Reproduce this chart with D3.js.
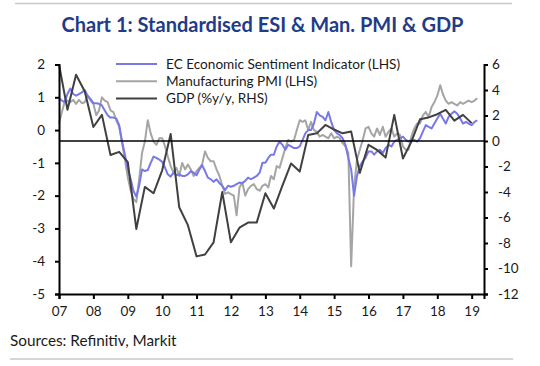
<!DOCTYPE html>
<html><head><meta charset="utf-8">
<script src="https://cdn.jsdelivr.net/npm/d3@7"></script>
<style>
body{margin:0;background:#fff;}
svg text{font-family:Lato,"Open Sans",sans-serif;}
</style></head>
<body><svg id="c" width="540" height="366"></svg>
<script>
// ---- data ----
const monthlyStart = [2007, 0]; // Jan 2007, monthly observations
const esi = [0.97,0.9,0.85,1.1,1.27,1.1,1.05,1.1,1.15,1.22,1.05,0.95,
0.82,0.82,0.8,0.75,0.6,0.45,0.38,0.38,0.35,0.15,-0.35,-0.75,
-1.2,-1.5,-1.85,-2.03,-1.7,-1.2,-1.25,-1.22,-1.0,-0.81,-0.85,-0.9,
-0.97,-1.15,-1.35,-1.42,-1.3,-1.38,-1.35,-1.4,-1.4,-1.35,-1.25,-1.3,
-1.38,-1.2,-1.07,-1.25,-1.45,-1.5,-1.58,-1.5,-1.62,-1.7,-1.83,-1.7,
-1.73,-1.7,-1.65,-1.6,-1.62,-1.55,-1.45,-1.5,-1.45,-1.4,-1.3,-1.0,
-1.0,-0.85,-0.75,-0.75,-0.5,-0.35,-0.45,-0.6,-0.45,-0.5,-0.55,-0.55,
-0.5,-0.3,-0.1,0.0,0.0,0.2,0.55,0.45,0.4,0.3,0.55,0.25,
0.0,-0.1,-0.15,-0.25,-0.45,-0.85,-1.2,-2.0,-1.4,-1.1,-0.95,-0.85,
-0.65,-0.65,-0.75,-0.65,-0.6,-0.7,-0.55,-0.45,-0.5,-0.35,-0.3,-0.25,
-0.2,-0.3,-0.35,-0.3,-0.3,-0.35,-0.25,-0.05,0.15,0.1,0.05,0.2,
0.35,0.5,0.35,0.2,0.4,0.5,0.57,0.5,0.35,0.2,0.25,0.2,
0.15,0.25,0.3];
const pmi = [0.2,0.55,0.85,0.9,0.85,0.92,0.8,0.92,0.82,0.85,1.05,0.9,
0.8,0.45,0.6,1.0,0.9,0.85,0.6,0.55,0.3,0.1,-0.4,-0.9,
-1.45,-1.85,-2.1,-2.2,-1.5,-0.7,-0.35,0.3,-0.1,-0.35,-0.45,-0.25,
-0.25,-0.5,-0.8,-1.1,-1.3,-1.15,-1.4,-1.0,-1.2,-1.05,-1.2,-1.4,
-1.25,-1.15,-1.05,-0.65,-0.85,-0.95,-0.95,-1.2,-1.4,-1.7,-1.95,-1.9,
-1.95,-2.0,-2.6,-1.75,-1.6,-2.0,-1.8,-1.7,-1.65,-1.8,-1.85,-1.7,
-1.65,-1.75,-1.4,-1.5,-1.1,-1.15,-0.85,-0.55,-0.3,-0.35,-0.3,0.0,
0.3,0.25,0.3,0.0,0.25,0.0,-0.05,-0.2,-0.15,-0.2,-0.25,-0.1,
-0.25,-0.2,-0.25,-0.4,-0.5,-0.7,-4.15,-1.75,-0.9,-0.6,-0.3,0.05,
0.1,-0.1,-0.2,0.05,-0.15,0.1,-0.2,-0.05,0.05,-0.2,-0.1,-0.15,
-0.5,-0.6,-0.6,-0.2,0.05,0.2,0.2,0.45,0.55,0.4,0.7,0.85,
1.05,1.37,1.1,0.9,0.8,0.85,0.8,0.75,0.85,0.8,0.85,0.9,
0.85,0.9,0.97];
const quarterlyStart = [2007, 0]; // Q1 2007, quarterly observations
const gdp = [6.0,2.45,5.2,3.9,1.1,2.05,-1.1,-0.85,-1.65,-6.9,-3.6,-4.1,
-2.3,0.55,-5.2,-6.6,-9.05,-8.9,-7.95,-4.0,-7.95,-6.8,-6.4,-6.4,
-4.1,-5.3,-3.5,-1.76,-2.4,0.47,0.6,1.26,0.9,0.6,0.75,-2.5,
-0.3,-0.7,-1.3,2.05,-1.37,-0.05,1.7,1.85,2.1,2.45,1.6,2.05,1.4];
const xTickLabels = ["07","08","09","10","11","12","13","14","15","16","17","18","19"];
const leftTicks = [2,1,0,-1,-2,-3,-4,-5];
const rightTicks = [6,4,2,0,-2,-4,-6,-8,-10,-12];
const seriesNames = ["EC Economic Sentiment Indicator (LHS)","Manufacturing PMI (LHS)","GDP (%y/y, RHS)"];
const colors = ["#7878E8","#A5A5A5","#404040"];

// ---- layout ----
const svg = d3.select("#c");
const L = 59, R = 484, T = 64.5, B = 294;
const x = d3.scaleTime().domain([new Date(2007,0,1), new Date(2019,4,12)]).range([L,R]);
const yL = d3.scaleLinear().domain([-5,2]).range([B,T]);
const yR = d3.scaleLinear().domain([-12,6]).range([B,T]);

const mDate = (i)=> new Date(monthlyStart[0], monthlyStart[1]+i, 1);
const qDate = (i)=> new Date(quarterlyStart[0], quarterlyStart[1]+3*i, 1);

// frame lines
svg.append("line").attr("x1",15).attr("x2",512).attr("y1",3.5).attr("y2",3.5).attr("stroke","#c8c8c8").attr("stroke-width",1.5);
svg.append("line").attr("x1",10).attr("x2",513).attr("y1",359).attr("y2",359).attr("stroke","#c8c8c8").attr("stroke-width",1.5);

// title
svg.append("text").attr("x",262.5).attr("y",32).attr("text-anchor","middle")
 .attr("font-size",20).attr("font-weight","bold").attr("fill","#1F3C88")
 .text("Chart 1: Standardised ESI & Man. PMI & GDP");

// series lines
const lineL = d3.line().x((d,i)=>x(mDate(i))).y(d=>yL(d));
const lineR = d3.line().x((d,i)=>x(qDate(i))).y(d=>yR(d));
const g = svg.append("g");
g.append("path").attr("d",lineL(pmi)).attr("fill","none").attr("stroke",colors[1]).attr("stroke-width",2).attr("stroke-linejoin","round");
g.append("path").attr("d",lineL(esi)).attr("fill","none").attr("stroke",colors[0]).attr("stroke-width",2).attr("stroke-linejoin","round");
g.append("path").attr("d",lineR(gdp)).attr("fill","none").attr("stroke",colors[2]).attr("stroke-width",2).attr("stroke-linejoin","round");

// zero line (RHS)
svg.append("line").attr("x1",L).attr("x2",R).attr("y1",yR(0)).attr("y2",yR(0)).attr("stroke","#000").attr("stroke-width",1.5);

// axes
const fmt = d=> d<0 ? "-"+Math.abs(d) : String(d);
const axL = svg.append("g").attr("transform",`translate(${L},0)`)
 .call(d3.axisLeft(yL).tickValues(leftTicks).tickSize(4).tickPadding(10).tickFormat(fmt));
const axR = svg.append("g").attr("transform",`translate(${R},0)`)
 .call(d3.axisRight(yR).tickValues(rightTicks).tickSize(4).tickPadding(4).tickFormat(fmt));
const years = xTickLabels.map((s,i)=>new Date(2007+i,0,1));
const axB = svg.append("g").attr("transform",`translate(0,${B})`)
 .call(d3.axisBottom(x).tickValues(years).tickSize(5).tickPadding(7).tickFormat((d,i)=>xTickLabels[i]));
[axL,axR,axB].forEach(a=>{
  a.select(".domain").attr("stroke","#000").attr("stroke-width",2);
  a.selectAll(".tick line").attr("stroke","#000").attr("stroke-width",2);
  a.selectAll("text").attr("font-size",13.5).attr("fill","#1a1a1a").attr("font-family","Lato, sans-serif");
});
axR.selectAll(".tick text").attr("dx",d=>d<0?6:0);

// legend
const lg = svg.append("g");
seriesNames.forEach((n,i)=>{
  const yy = 64 + i*17.2;
  lg.append("line").attr("x1",116).attr("x2",157).attr("y1",yy).attr("y2",yy).attr("stroke",colors[i]).attr("stroke-width",2);
  lg.append("text").attr("x",166).attr("y",yy+4.8).attr("font-size",13.6).attr("fill","#1a1a1a").text(n);
});

// source
svg.append("text").attr("x",10).attr("y",346).attr("font-size",15.3).attr("fill","#1a1a1a").text("Sources: Refinitiv, Markit");
</script></body></html>
